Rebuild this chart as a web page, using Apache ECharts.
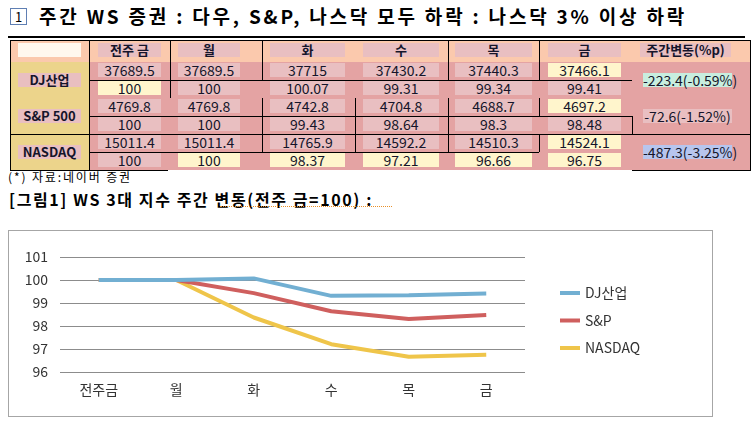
<!DOCTYPE html>
<html><head><meta charset="utf-8">
<script src="https://cdn.jsdelivr.net/npm/echarts@6/dist/echarts.min.js"></script>
<style>
html,body{margin:0;padding:0;background:#fff;width:753px;height:435px;overflow:hidden;font-family:"Noto Sans CJK KR","Noto Sans",sans-serif;}
.abs{position:absolute;}
.t{position:absolute;white-space:nowrap;color:#15152a;}
</style></head>
<body>
<div id="page" class="abs" style="left:0;top:0;width:753px;height:435px;"></div>
<div class="abs" style="left:8px;top:230px;width:705px;height:187px;box-sizing:border-box;border:1px solid #a6a6a6;"></div>
<div id="chart" class="abs" style="left:9px;top:231px;width:703px;height:185px;"></div>
<script>
// ---------- data ----------
const titleText = '주간 WS 증권 : 다우, S&P, 나스닥 모두 하락 : 나스닥 3% 이상 하락';
const headerCats = ['전주 금', '월', '화', '수', '목', '금'];
const chartCats = ['전주금', '월', '화', '수', '목', '금'];
const indexNames = ['DJ산업', 'S&P 500', 'NASDAQ'];
const seriesNames = ['DJ산업', 'S&P', 'NASDAQ'];
const djClose = [37689.5, 37689.5, 37715, 37430.2, 37440.3, 37466.1];
const djIndex = [100, 100, 100.07, 99.31, 99.34, 99.41];
const spClose = [4769.8, 4769.8, 4742.8, 4704.8, 4688.7, 4697.2];
const spIndex = [100, 100, 99.43, 98.64, 98.3, 98.48];
const nqClose = [15011.4, 15011.4, 14765.9, 14592.2, 14510.3, 14524.1];
const nqIndex = [100, 100, 98.37, 97.21, 96.66, 96.75];
const weeklyChange = ['-223.4(-0.59%)', '-72.6(-1.52%)', '-487.3(-3.25%)'];
const changeHeader = '주간변동(%p)';
const sourceText = '(*) 자료:네이버 증권';
const figText = '[그림1] WS 3대 지수 주간 변동(전주 금=100) :';
const yTicks = [96, 97, 98, 99, 100, 101];

// ---------- layout (styles only) ----------
const page = document.getElementById('page');
function el(css, text, cls) {
  const d = document.createElement('div');
  d.className = cls || 'abs';
  d.style.cssText = css;
  if (text !== undefined) d.textContent = text;
  page.appendChild(d);
  return d;
}
function fit(d, w) {
  const cur = d.getBoundingClientRect().width;
  const n = d.textContent.length;
  if (n > 1) d.style.letterSpacing = ((w - cur) / n) + 'px';
}
// title
el('left:10px;top:8px;width:17px;height:17px;box-sizing:border-box;border:1px solid #5f7fb3;font-size:13px;line-height:15px;text-align:center;color:#000;background:#fff;', '1');
const tt = el('left:39px;top:3px;font-size:19px;font-weight:bold;line-height:26px;color:#000;', titleText, 't');
fit(tt, 648);
el('left:8px;top:36px;width:737px;height:2px;background:#000;');

// table
const colX = [10, 89, 170, 262, 355, 448, 539, 632, 750];
const rowY = [40, 62, 80, 98, 116, 134, 152, 170];
el('left:10px;top:40px;width:740px;height:22px;background:#fbc9ad;');
el('left:10px;top:62px;width:79px;height:108px;background:#ecd48b;');
el('left:89px;top:62px;width:661px;height:108px;background:#e4a3a3;');
const pink = '#e9bfc1', yellow = '#fff5cc';
function box(x, y, w, h, bg, text, fs, fw) {
  el('left:' + x + 'px;top:' + y + 'px;width:' + w + 'px;height:' + h + 'px;background:' + bg +
     ';font-size:' + (fs || 14) + 'px;line-height:' + h + 'px;text-align:center;color:#15152a;white-space:nowrap;font-weight:' + (fw || 'normal') + ';', text);
}
const boxCol = [[98, 63], [178, 62], [270, 75], [363, 76], [455, 77], [548, 73]];
box(18, 43, 63, 14, '#fff8ee', '');
headerCats.forEach((c, j) => box(boxCol[j][0], 43, boxCol[j][1], 14, pink, c, 13, 600));
box(640, 43, 91, 14, pink, changeHeader, 13, 600);
const rows = [djClose, djIndex, spClose, spIndex, nqClose, nqIndex];
const yellowCells = {'1,0':1, '0,5':1, '2,5':1, '4,5':1, '5,1':1, '5,2':1, '5,3':1, '5,4':1, '5,5':1};
rows.forEach((r, i) => r.forEach((v, j) => {
  box(boxCol[j][0], rowY[i + 1] + 1, boxCol[j][1], 14, yellowCells[i + ',' + j] ? yellow : pink, String(v));
}));
const groupCenter = [79.5, 115.5, 151.5];
indexNames.forEach((n, k) => box(18, groupCenter[k] - 7, 63, 14, pink, n, 13, 600));
const changeBg = ['#c8eedf', pink, '#b7c5ee'];
weeklyChange.forEach((c, k) => box(643, groupCenter[k] - 7, 89, 14, changeBg[k], c));
// table lines
const hLines = [[40, 10, 750], [80, 89, 632], [116, 89, 632], [134, 10, 750], [152, 89, 539], [170, 10, 168], [170, 632, 750]];
const vLines = [[10, 40, 171], [89, 40, 170], [750, 40, 171], [170, 40, 98], [262, 40, 80], [262, 98, 152], [355, 98, 152],
  [448, 40, 80], [448, 98, 152], [539, 40, 80], [539, 98, 116], [539, 134, 152], [632, 116, 134]];
hLines.forEach(l => el('left:' + l[1] + 'px;top:' + l[0] + 'px;width:' + (l[2] - l[1]) + 'px;height:1px;background:#000;'));
vLines.forEach(l => el('left:' + l[0] + 'px;top:' + l[1] + 'px;width:1px;height:' + (l[2] - l[1]) + 'px;background:#000;'));

// captions
const c1 = el('left:8px;top:169px;font-size:12px;line-height:16px;color:#000;', sourceText, 't');
fit(c1, 124);
const c2 = el('left:9px;top:188px;font-size:16px;font-weight:bold;line-height:22px;color:#000;', figText, 't');
fit(c2, 364);
el('left:220px;top:206px;width:172px;height:0;border-top:1.5px dotted #e8902a;');

// ---------- chart ----------
const chart = echarts.init(document.getElementById('chart'));
const colors = ['#72afd2', '#cf5f5e', '#efc54a'];
const font = '"Noto Sans CJK KR","Noto Sans",sans-serif';
chart.setOption({
  animation: false,
  backgroundColor: '#fff',
  grid: {left: 51, right: 187, top: 26, bottom: 44},
  legend: {
    orient: 'vertical', left: 546, top: 49, itemWidth: 20, itemHeight: 4, itemGap: 11.5,
    icon: 'rect', data: seriesNames,
    textStyle: {fontSize: 14, color: '#333', fontFamily: font, lineHeight: 16}
  },
  xAxis: {
    type: 'category', data: chartCats, boundaryGap: true,
    axisLine: {show: false}, axisTick: {show: false},
    axisLabel: {fontSize: 14, color: '#333', margin: 11, fontFamily: font}
  },
  yAxis: {
    type: 'value', min: yTicks[0], max: yTicks[yTicks.length - 1], interval: 1,
    axisLine: {show: false}, axisTick: {show: false},
    axisLabel: {fontSize: 14, color: '#333', margin: 12, fontFamily: font},
    splitLine: {lineStyle: {color: '#8c8c8c', width: 1}}
  },
  series: [
    {name: seriesNames[0], type: 'line', data: djIndex, z: 5},
    {name: seriesNames[1], type: 'line', data: spIndex, z: 4},
    {name: seriesNames[2], type: 'line', data: nqIndex, z: 3}
  ].map((s, i) => Object.assign(s, {
    color: colors[i], showSymbol: false, symbol: 'none',
    lineStyle: {width: 4, color: colors[i]}
  }))
});
</script>
</body></html>
